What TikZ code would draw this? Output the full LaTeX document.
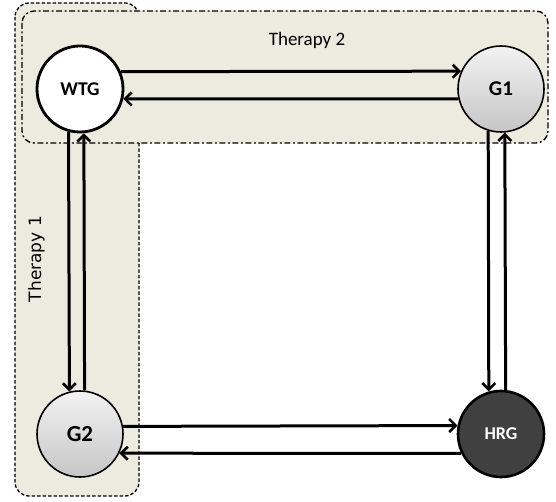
\documentclass[tikz,border=0pt]{standalone}
\usepackage{fontspec}
\setmainfont{Carlito}
\newfontfamily\dejavu{DejaVu Sans}
\usetikzlibrary{arrows.meta}
\definecolor{groupfill}{RGB}{237,234,224}
\definecolor{hrgfill}{RGB}{64,64,64}
\begin{document}
\begin{tikzpicture}[x=1pt,y=-1pt,
  state/.style={circle,minimum size=86pt,inner sep=0pt,font=\bfseries},
  lightstate/.style={state,draw=black,line width=1.6pt,top color=gray!10,bottom color=gray!45},
  flow/.style={line width=3pt,-{Straight Barb[length=6.5pt,width=13pt,line width=2.6pt]}},
  grouplabel/.style={anchor=base,inner sep=0pt}]
\useasboundingbox (0,0) rectangle (556,502);
% therapy groups
\draw[fill=groupfill,line width=1.3pt,dash pattern=on 3.5pt off 2pt,rounded corners=14pt]
  (15,3) rectangle (139,496);
\draw[fill=groupfill,line width=1.3pt,dash pattern=on 6pt off 2.5pt on 2pt off 2.5pt,rounded corners=12pt]
  (22,11) rectangle (548,143);
\node[grouplabel,font=\fontsize{19}{19}\selectfont] (t2) at (307,46) {Therapy 2};
\node[grouplabel,rotate=90,font=\dejavu\fontsize{17}{17}\selectfont] (t1) at (41,259) {Therapy 1};
% states
\node[state,draw=black,line width=2.8pt,fill=white,font=\bfseries\fontsize{19.5}{19.5}\selectfont] (WTG) at (80,89) {WTG};
\node[lightstate,font=\bfseries\fontsize{21}{21}\selectfont] (G1) at (501,89) {G1};
\node[lightstate,font=\bfseries\fontsize{23}{23}\selectfont] (G2) at (80,434) {G2};
\node[state,draw=black,line width=2.6pt,fill=hrgfill,text=white,font=\bfseries\fontsize{18}{18}\selectfont] (HRG) at (501,434) {HRG};
% transitions
\draw[flow] (WTG.23.3) -- (G1.156.7);
\draw[flow] (G1.193.4) -- (WTG.-13.4);
\draw[flow] (WTG.255.2) -- (G2.104.8);
\draw[flow] (G2.84.7) -- (WTG.275.3);
\draw[flow] (G1.253.8) -- (HRG.106.2);
\draw[flow] (HRG.84.7) -- (G1.275.3);
\draw[flow] (G2.10.7) -- (HRG.169.3);
\draw[flow] (HRG.206.2) -- (G2.-26.2);
\end{tikzpicture}
\end{document}
